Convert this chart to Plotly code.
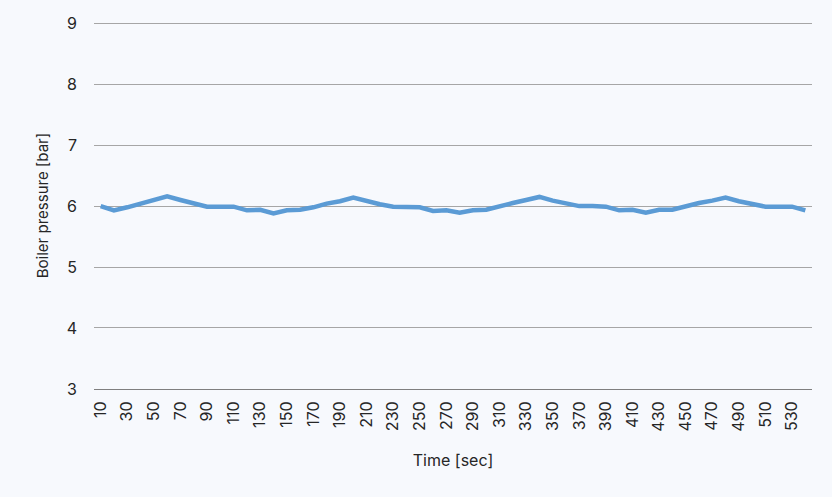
import plotly.graph_objects as go

# time in seconds, one sample every 10 s
time_sec = list(range(10, 550, 10))

pressure_bar = [
    6.00, 5.93, 5.98, 6.04, 6.10, 6.16, 6.10, 6.04, 5.99, 5.99,
    5.99, 5.93, 5.94, 5.88, 5.93, 5.94, 5.98, 6.04, 6.08, 6.14,
    6.08, 6.03, 5.99, 5.99, 5.98, 5.92, 5.93, 5.89, 5.93, 5.94,
    6.00, 6.05, 6.10, 6.15, 6.09, 6.04, 6.00, 6.00, 5.99, 5.93,
    5.94, 5.89, 5.94, 5.94, 6.00, 6.05, 6.09, 6.14, 6.08, 6.03,
    5.99, 5.99, 5.99, 5.93,
]

tick_vals = time_sec[::2]
tick_text = [str(t) for t in tick_vals]

bg = "#f7f9fd"
font = "Inter"

fig = go.Figure()
fig.add_trace(go.Scatter(
    x=time_sec, y=pressure_bar, mode="lines",
    line=dict(color="#5b9bd5", width=4.5),
    showlegend=False,
))

fig.update_layout(
    width=832, height=497,
    paper_bgcolor=bg, plot_bgcolor=bg,
    margin=dict(l=94, r=20, t=22, b=108),
    font=dict(family=font, size=15, color="#262626"),
)
fig.update_xaxes(
    range=[5, 545],
    tickvals=tick_vals, ticktext=tick_text, tickangle=-90,
    showgrid=False, zeroline=False,
    showline=True, linecolor="#7f7f7f", linewidth=1,
    ticklabelstandoff=5,
    title=dict(text="Time [sec]", font=dict(size=16), standoff=24),
    tickfont=dict(size=16),
)
fig.update_yaxes(
    range=[2.999, 9.02], tickvals=[3, 4, 5, 6, 7, 8, 9],
    showgrid=True, gridcolor="#a6a6a6", gridwidth=1,
    zeroline=False,
    ticks="", ticklabelstandoff=16,
    title=dict(text="Boiler pressure [bar]", font=dict(size=15), standoff=14),
    tickfont=dict(size=16),
)

# drop the page margin so the chart fills the window
fig.write_html(
    "out.html",
    config={"displayModeBar": False},
    post_script="document.body.style.margin='0';document.body.style.background='%s';" % bg,
)
